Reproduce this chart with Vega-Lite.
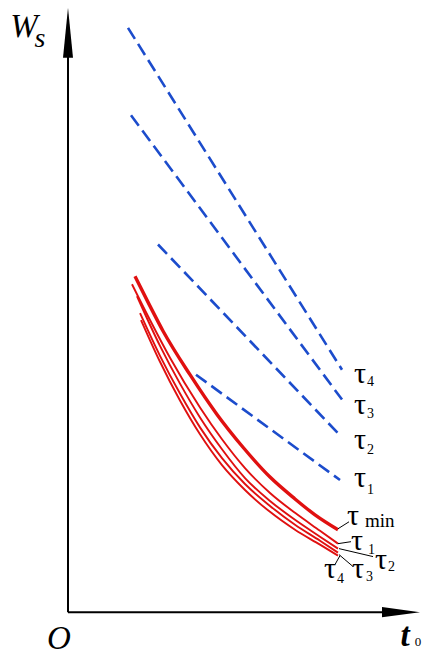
{
  "$schema": "https://vega.github.io/schema/vega-lite/v6.json",
  "width": 430,
  "height": 656,
  "autosize": {"type": "fit", "contains": "padding"},
  "padding": 0,
  "background": "white",
  "config": {"view": {"stroke": null}},
  "datasets": {
    "blue": [
      {"tau": "τ4", "t0": 60, "Ws": 588}, {"tau": "τ4", "t0": 274, "Ws": 244},
      {"tau": "τ3", "t0": 63, "Ws": 500}, {"tau": "τ3", "t0": 274, "Ws": 214},
      {"tau": "τ2", "t0": 90, "Ws": 370}, {"tau": "τ2", "t0": 272, "Ws": 178},
      {"tau": "τ1", "t0": 128, "Ws": 239}, {"tau": "τ1", "t0": 272, "Ws": 133}
    ],
    "red": [
      {"tau": "min", "t0": 67, "Ws": 338}, {"tau": "min", "t0": 81, "Ws": 310}, {"tau": "min", "t0": 95, "Ws": 283},
      {"tau": "min", "t0": 122, "Ws": 239}, {"tau": "min", "t0": 149, "Ws": 199}, {"tau": "min", "t0": 175, "Ws": 166},
      {"tau": "min", "t0": 202, "Ws": 136}, {"tau": "min", "t0": 227, "Ws": 114}, {"tau": "min", "t0": 247, "Ws": 98},
      {"tau": "min", "t0": 270, "Ws": 83},
      {"tau": "1", "t0": 64, "Ws": 330}, {"tau": "1", "t0": 82, "Ws": 294}, {"tau": "1", "t0": 102, "Ws": 256},
      {"tau": "1", "t0": 132, "Ws": 206}, {"tau": "1", "t0": 154, "Ws": 174}, {"tau": "1", "t0": 177, "Ws": 145},
      {"tau": "1", "t0": 202, "Ws": 120}, {"tau": "1", "t0": 227, "Ws": 100}, {"tau": "1", "t0": 252, "Ws": 82},
      {"tau": "1", "t0": 270, "Ws": 69},
      {"tau": "2", "t0": 69, "Ws": 318}, {"tau": "2", "t0": 92, "Ws": 268}, {"tau": "2", "t0": 112, "Ws": 230},
      {"tau": "2", "t0": 132, "Ws": 196}, {"tau": "2", "t0": 154, "Ws": 164}, {"tau": "2", "t0": 177, "Ws": 135},
      {"tau": "2", "t0": 202, "Ws": 112}, {"tau": "2", "t0": 227, "Ws": 93}, {"tau": "2", "t0": 252, "Ws": 76},
      {"tau": "2", "t0": 270, "Ws": 64},
      {"tau": "3", "t0": 72, "Ws": 301}, {"tau": "3", "t0": 92, "Ws": 258}, {"tau": "3", "t0": 112, "Ws": 220},
      {"tau": "3", "t0": 132, "Ws": 186}, {"tau": "3", "t0": 154, "Ws": 155}, {"tau": "3", "t0": 177, "Ws": 129},
      {"tau": "3", "t0": 202, "Ws": 107}, {"tau": "3", "t0": 227, "Ws": 88}, {"tau": "3", "t0": 252, "Ws": 72},
      {"tau": "3", "t0": 270, "Ws": 60},
      {"tau": "4", "t0": 73, "Ws": 294}, {"tau": "4", "t0": 92, "Ws": 252}, {"tau": "4", "t0": 112, "Ws": 213},
      {"tau": "4", "t0": 132, "Ws": 179}, {"tau": "4", "t0": 154, "Ws": 148}, {"tau": "4", "t0": 177, "Ws": 123},
      {"tau": "4", "t0": 202, "Ws": 101}, {"tau": "4", "t0": 227, "Ws": 83}, {"tau": "4", "t0": 252, "Ws": 68},
      {"tau": "4", "t0": 270, "Ws": 57}
    ],
    "leaders": [
      {"t0": 270, "Ws": 84, "t0e": 281, "Wse": 91},
      {"t0": 270, "Ws": 69, "t0e": 283, "Wse": 71},
      {"t0": 271, "Ws": 64, "t0e": 305, "Wse": 56},
      {"t0": 271, "Ws": 58, "t0e": 285, "Wse": 46},
      {"t0": 272, "Ws": 57, "t0e": 267, "Wse": 48}
    ],
    "axes": [
      {"t0": 0, "Ws": 0, "t0e": 0, "Wse": 562},
      {"t0": 0, "Ws": 0, "t0e": 316, "Wse": 0}
    ],
    "arrows": [
      {"dir": "up", "t0": 0, "Ws": 583},
      {"dir": "right", "t0": 333, "Ws": 0}
    ],
    "taus": [
      {"t0": 292, "Ws": 231, "label": "τ", "sub": "4", "st0": 299, "sWs": 228},
      {"t0": 292, "Ws": 199, "label": "τ", "sub": "3", "st0": 299, "sWs": 195},
      {"t0": 292, "Ws": 164, "label": "τ", "sub": "2", "st0": 299, "sWs": 159},
      {"t0": 292, "Ws": 126, "label": "τ", "sub": "1", "st0": 299, "sWs": 119},
      {"t0": 289, "Ws": 63, "label": "τ", "sub": "1", "st0": 300, "sWs": 59},
      {"t0": 313, "Ws": 44, "label": "τ", "sub": "2", "st0": 320, "sWs": 41},
      {"t0": 290, "Ws": 34, "label": "τ", "sub": "3", "st0": 298, "sWs": 31},
      {"t0": 262, "Ws": 34, "label": "τ", "sub": "4", "st0": 269, "sWs": 29}
    ],
    "taumin": [
      {"t0": 285, "Ws": 88, "label": "τ", "sub": "min", "st0": 297, "sWs": 86}
    ]
  },
  "encoding": {
    "x": {"field": "t0", "type": "quantitative", "scale": {"domain": [-68, 362], "nice": false, "zero": false}, "axis": null},
    "y": {"field": "Ws", "type": "quantitative", "scale": {"domain": [-40, 616], "nice": false, "zero": false}, "axis": null}
  },
  "layer": [
    {
      "data": {"name": "axes"},
      "mark": {"type": "rule", "color": "black", "strokeWidth": 2},
      "encoding": {"x2": {"field": "t0e"}, "y2": {"field": "Wse"}}
    },
    {
      "data": {"name": "arrows"},
      "transform": [{"filter": "datum.dir === 'up'"}],
      "mark": {"type": "point", "shape": "M0,-1L0.2,1L-0.2,1Z", "size": 2500, "filled": true, "color": "black", "opacity": 1, "strokeWidth": 0}
    },
    {
      "data": {"name": "arrows"},
      "transform": [{"filter": "datum.dir === 'right'"}],
      "mark": {"type": "point", "shape": "M1,0L-1,-0.27L-1,0.27Z", "size": 1444, "filled": true, "color": "black", "opacity": 1, "strokeWidth": 0}
    },
    {
      "data": {"name": "blue"},
      "mark": {"type": "line", "color": "#1c4ccc", "strokeWidth": 2.6, "strokeDash": [13, 6]},
      "encoding": {"detail": {"field": "tau"}}
    },
    {
      "data": {"name": "red"},
      "transform": [{"filter": "datum.tau !== 'min'"}],
      "mark": {"type": "line", "color": "#e01010", "strokeWidth": 1.9, "interpolate": "monotone"},
      "encoding": {"detail": {"field": "tau"}}
    },
    {
      "data": {"name": "red"},
      "transform": [{"filter": "datum.tau === 'min'"}],
      "mark": {"type": "line", "color": "#e01010", "strokeWidth": 3.4, "interpolate": "monotone"},
      "encoding": {}
    },
    {
      "data": {"name": "leaders"},
      "mark": {"type": "rule", "color": "black", "strokeWidth": 1},
      "encoding": {"x2": {"field": "t0e"}, "y2": {"field": "Wse"}}
    },
    {
      "data": {"name": "taus"},
      "mark": {"type": "text", "font": "Liberation Serif", "fontSize": 30, "align": "center", "baseline": "alphabetic", "color": "black"},
      "encoding": {"text": {"field": "label"}}
    },
    {
      "data": {"name": "taus"},
      "mark": {"type": "text", "font": "Liberation Serif", "fontSize": 14, "align": "left", "baseline": "alphabetic", "color": "black"},
      "encoding": {"x": {"field": "st0", "type": "quantitative"}, "y": {"field": "sWs", "type": "quantitative"}, "text": {"field": "sub"}}
    },
    {
      "data": {"name": "taumin"},
      "mark": {"type": "text", "font": "Liberation Serif", "fontSize": 30, "align": "center", "baseline": "alphabetic", "color": "black"},
      "encoding": {"text": {"field": "label"}}
    },
    {
      "data": {"name": "taumin"},
      "mark": {"type": "text", "font": "Liberation Serif", "fontSize": 19, "align": "left", "baseline": "alphabetic", "color": "black"},
      "encoding": {"x": {"field": "st0", "type": "quantitative"}, "y": {"field": "sWs", "type": "quantitative"}, "text": {"field": "sub"}}
    },
    {
      "data": {"values": [
        {"t0": -44, "Ws": 579, "label": "W"},
        {"t0": -9, "Ws": -37, "label": "O"}
      ]},
      "mark": {"type": "text", "font": "Liberation Serif", "fontSize": 33, "fontStyle": "italic", "align": "center", "baseline": "alphabetic", "color": "black"},
      "encoding": {"text": {"field": "label"}}
    },
    {
      "data": {"values": [
        {"t0": 337, "Ws": -34, "label": "t"}
      ]},
      "mark": {"type": "text", "font": "Liberation Serif", "fontSize": 33, "fontStyle": "italic", "fontWeight": "bold", "align": "center", "baseline": "alphabetic", "color": "black"},
      "encoding": {"text": {"field": "label"}}
    },
    {
      "data": {"values": [
        {"t0": -28, "Ws": 569, "label": "s"}
      ]},
      "mark": {"type": "text", "font": "Liberation Serif", "fontSize": 28, "fontStyle": "italic", "align": "center", "baseline": "alphabetic", "color": "black"},
      "encoding": {"text": {"field": "label"}}
    },
    {
      "data": {"values": [
        {"t0": 350, "Ws": -34, "label": "0"}
      ]},
      "mark": {"type": "text", "font": "Liberation Serif", "fontSize": 13, "align": "center", "baseline": "alphabetic", "color": "black"},
      "encoding": {"text": {"field": "label"}}
    }
  ]
}
